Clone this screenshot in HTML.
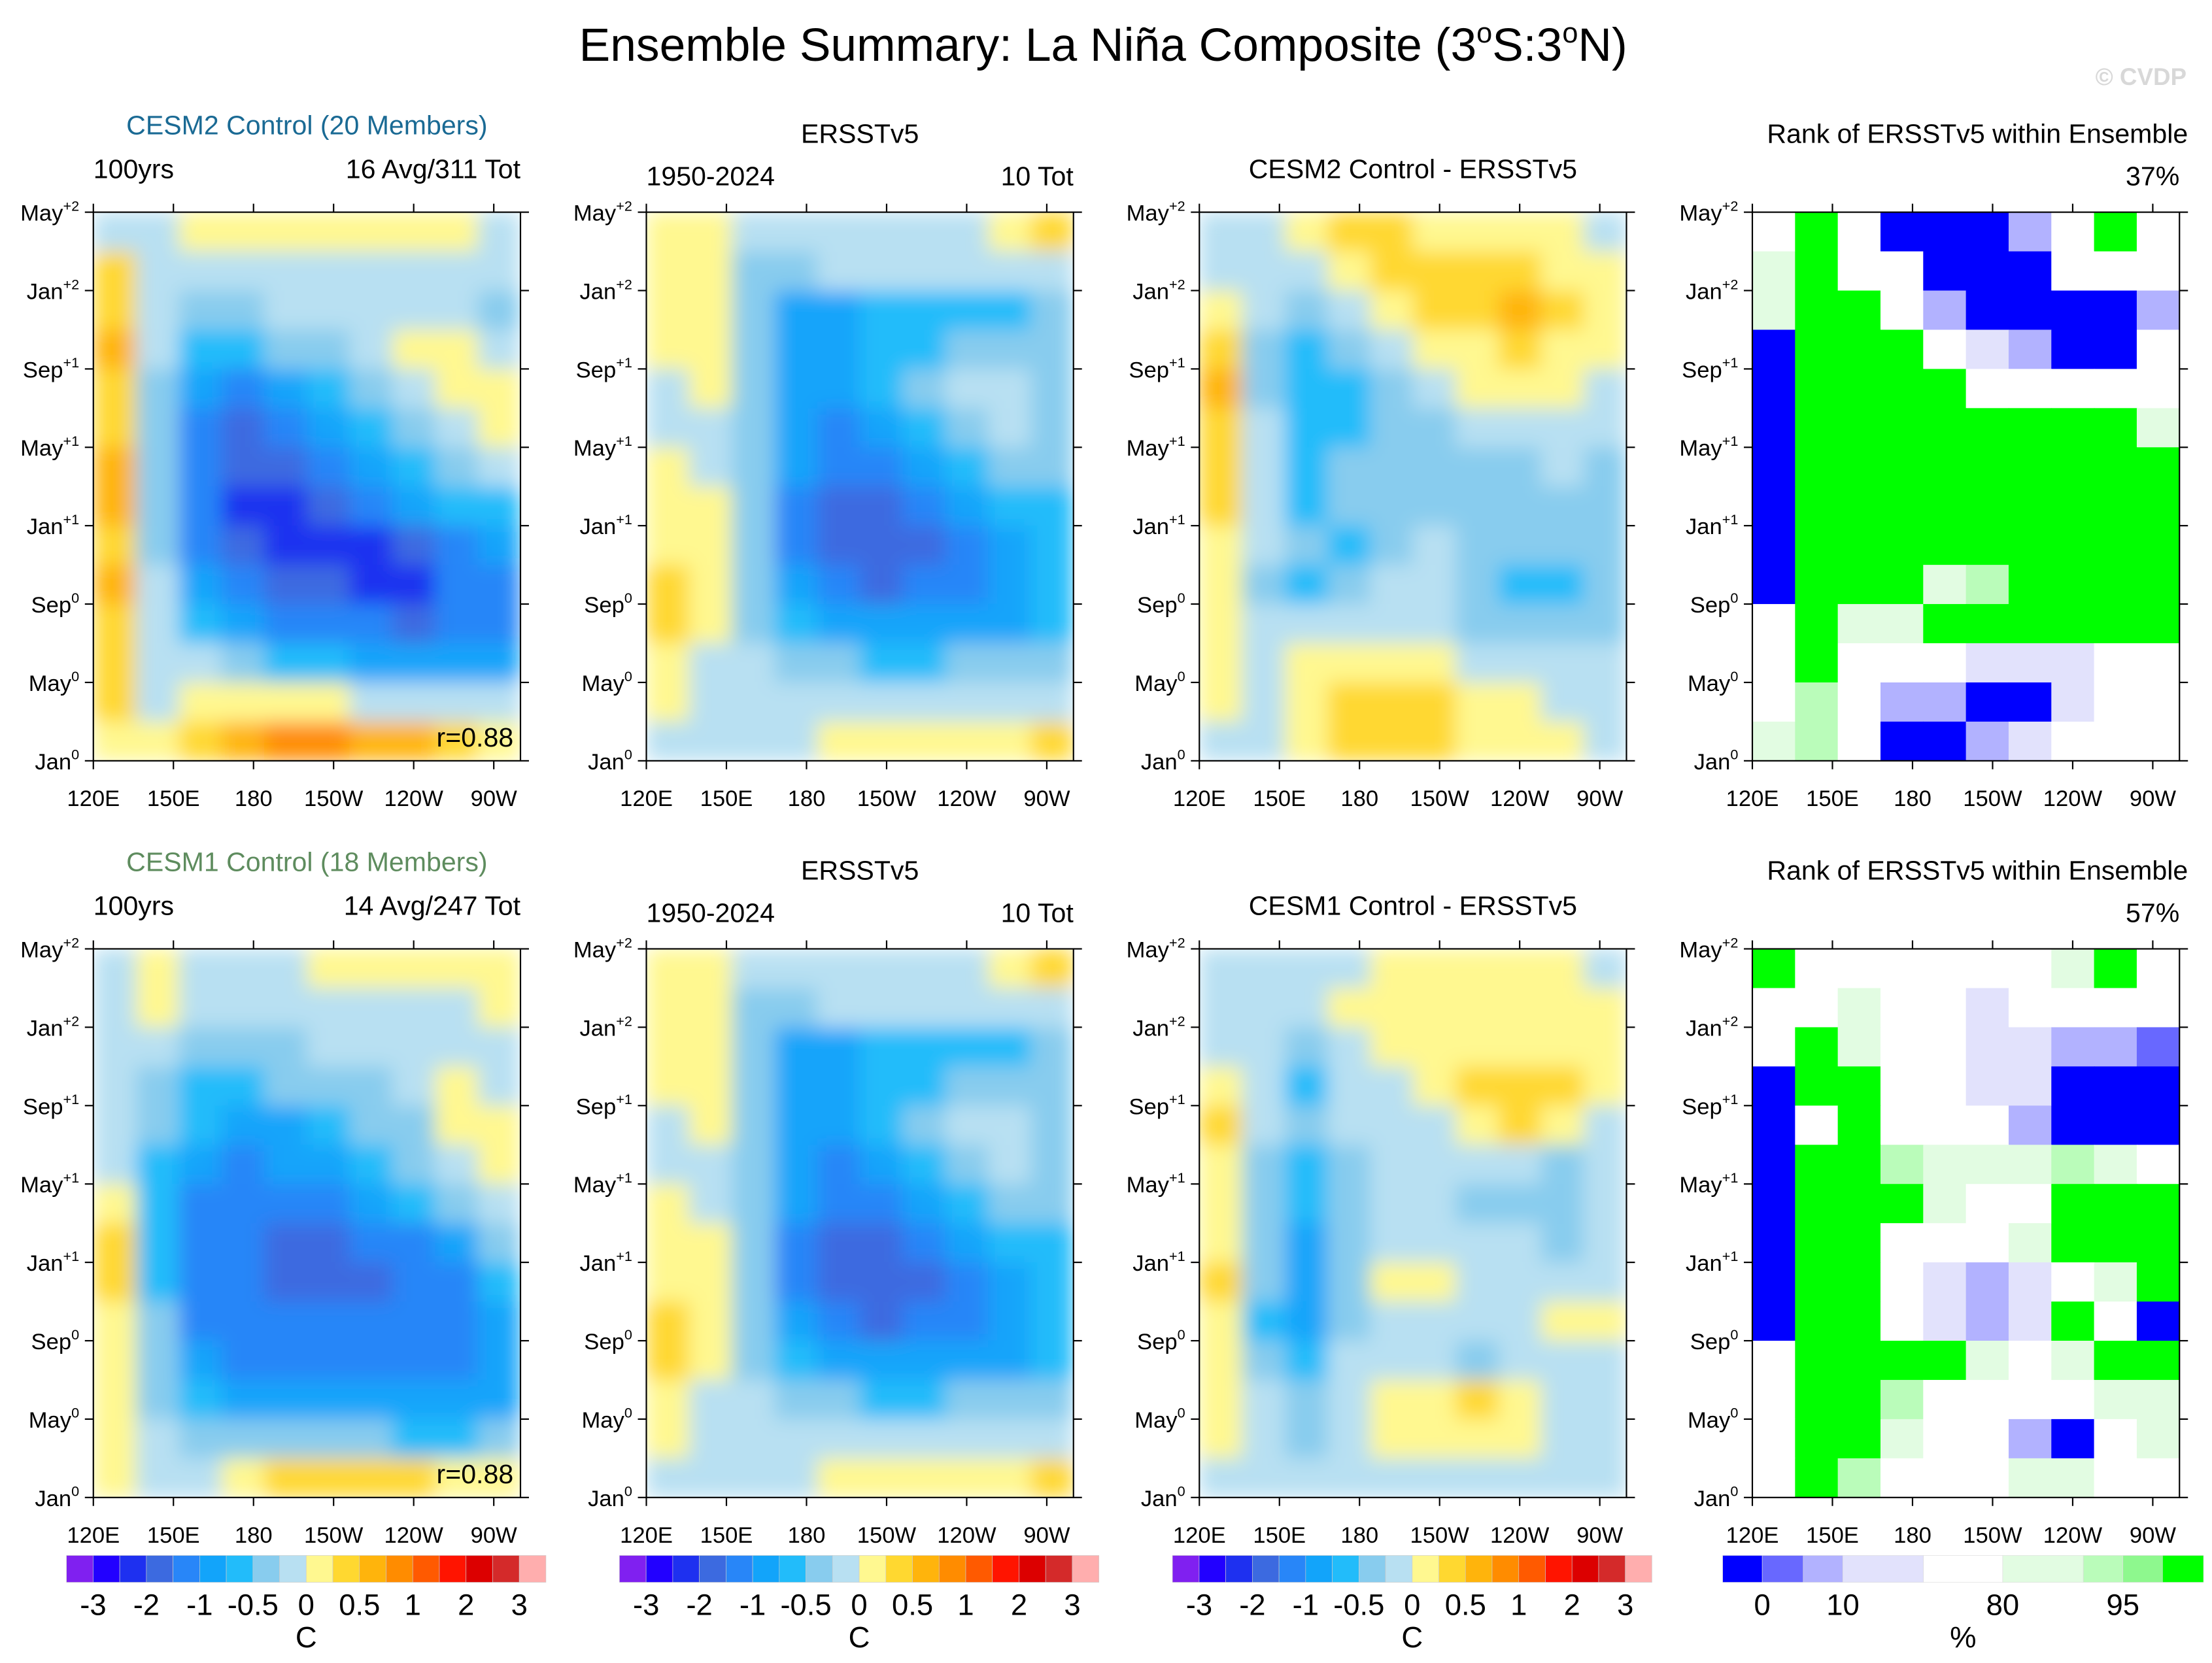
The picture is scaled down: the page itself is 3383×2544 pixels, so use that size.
<!DOCTYPE html>
<html><head><meta charset="utf-8"><style>
html,body{margin:0;padding:0;background:#fff;}
svg{display:block;font-family:"Liberation Sans",sans-serif;}
</style></head><body>
<svg id="fig" width="3383" height="2544" viewBox="0 0 1564 1176" xmlns="http://www.w3.org/2000/svg">
<defs>
<filter id="smooth" x="0" y="0" width="1" height="1" filterUnits="objectBoundingBox"><feGaussianBlur stdDeviation="7" edgeMode="duplicate"/></filter>
</defs>
<rect width="1564" height="1176" fill="#fff"/>
<text x="780" y="43" font-size="33" text-anchor="middle">Ensemble Summary: La Niña Composite (3<tspan font-size="20" dy="-13">o</tspan><tspan dy="13">S:3</tspan><tspan font-size="20" dy="-13">o</tspan><tspan dy="13">N)</tspan></text>
<text x="1546" y="60" font-size="17" text-anchor="end" fill="#d8d8d8" font-weight="bold">© CVDP</text>
</svg>
<script>
// ---- data ----
const lonTicks = ["120E","150E","180","150W","120W","90W"];
const lonTickValues = [120,150,180,210,240,270];
const monthTicks = ["Jan","May","Sep","Jan","May","Sep","Jan","May"];
const monthTickSup = ["0","0","0","+1","+1","+1","+2","+2"];
const monthTickValues = [0,4,8,12,16,20,24,28];
const sstLevels = [-3,-2.5,-2,-1.5,-1,-0.75,-0.5,-0.25,0,0.25,0.5,0.75,1,1.5,2,2.5,3];
const sstColors = ["#8020f0","#2200ff","#1e30f0","#3c6ae0","#2886f8","#12a4fa","#22bcfa","#88ccee","#b8e0f2","#fff890","#ffd830","#ffb40c","#ff8c00","#ff5a00","#ff1400","#dc0000","#d42a2a","#ffaeae"];
const sstBarLabels = ["-3","-2","-1","-0.5","0","0.5","1","2","3"];
const rankColors = ["#0000ff","#6868ff","#b2b2ff","#e2e2fc","#ffffff","#e2fce2","#bafcba","#8ef88e","#00ff00"];
const rankBarLabels = ["0","10","80","95"];
// grids: rows from top (May+2) to bottom (Jan0), 10 columns 120E..280E
const cesm2Ctrl = [
[-0.1,-0.1,0.1,0.1,0.1,0.1,0.1,0.1,0.1,-0.1],
[0.3,-0.1,-0.1,-0.1,-0.1,-0.1,-0.1,-0.1,-0.1,-0.1],
[0.4,-0.1,-0.4,-0.4,-0.1,-0.1,-0.1,-0.1,-0.1,-0.4],
[0.5,-0.1,-0.6,-0.6,-0.4,-0.4,-0.1,0.1,0.1,-0.1],
[0.4,-0.4,-0.9,-1.2,-0.9,-0.6,-0.4,-0.1,0.1,0.1],
[0.3,-0.4,-1.2,-1.7,-1.2,-0.9,-0.6,-0.4,-0.1,0.1],
[0.5,-0.4,-1.2,-1.7,-1.7,-1.2,-0.9,-0.6,-0.4,-0.1],
[0.6,-0.4,-1.2,-2.2,-2.2,-1.7,-1.2,-0.9,-0.6,-0.6],
[0.4,-0.4,-1.2,-1.7,-2.2,-2.2,-2.2,-1.7,-1.2,-0.9],
[0.6,-0.1,-0.9,-1.2,-1.7,-1.7,-2.2,-2.2,-1.2,-1.2],
[0.4,-0.1,-0.6,-0.9,-1.2,-1.2,-1.2,-1.7,-1.2,-1.2],
[0.3,-0.1,-0.1,-0.4,-0.6,-0.6,-0.9,-0.9,-0.9,-0.9],
[0.3,-0.1,0.1,0.1,0.1,0.1,-0.1,-0.1,-0.1,-0.1],
[0.1,0.1,0.4,0.6,0.9,0.9,0.6,0.6,0.4,0.1]];
const ersst = [
[0.1,0.1,-0.1,-0.1,-0.1,-0.1,-0.1,-0.1,0.1,0.4],
[0.1,0.1,-0.4,-0.4,-0.1,-0.1,-0.1,-0.1,-0.1,-0.1],
[0.1,0.1,-0.4,-0.9,-0.9,-0.6,-0.6,-0.6,-0.6,-0.4],
[0.1,0.1,-0.4,-0.9,-0.9,-0.6,-0.6,-0.4,-0.4,-0.4],
[-0.1,0.1,-0.4,-0.9,-0.9,-0.6,-0.4,-0.1,-0.1,-0.4],
[-0.1,-0.1,-0.4,-0.9,-1.2,-0.9,-0.6,-0.4,-0.1,-0.4],
[0.1,-0.1,-0.4,-0.9,-1.2,-1.2,-0.9,-0.6,-0.4,-0.4],
[0.1,0.1,-0.4,-1.2,-1.7,-1.7,-1.2,-0.9,-0.6,-0.6],
[0.1,0.1,-0.4,-1.2,-1.7,-1.7,-1.7,-1.2,-0.9,-0.6],
[0.4,0.1,-0.4,-0.9,-1.2,-1.7,-1.2,-1.2,-0.9,-0.6],
[0.4,0.1,-0.4,-0.6,-0.9,-0.9,-0.9,-0.9,-0.9,-0.6],
[0.1,-0.1,-0.1,-0.4,-0.4,-0.6,-0.6,-0.4,-0.4,-0.4],
[0.1,-0.1,-0.1,-0.1,-0.1,-0.1,-0.1,-0.1,-0.1,-0.1],
[-0.1,-0.1,-0.1,-0.1,0.1,0.1,0.1,0.1,0.1,0.4]];
const cesm2Diff = [
[-0.1,-0.1,0.1,0.4,0.4,0.1,0.1,0.1,0.1,-0.1],
[-0.1,-0.1,-0.1,0.1,0.4,0.4,0.4,0.4,0.1,0.1],
[0.1,-0.1,-0.4,-0.1,0.1,0.4,0.4,0.6,0.4,0.1],
[0.4,-0.4,-0.6,-0.4,-0.1,0.1,0.1,0.4,0.1,0.1],
[0.6,-0.4,-0.6,-0.6,-0.4,-0.1,0.1,0.1,0.1,-0.1],
[0.4,-0.1,-0.6,-0.6,-0.4,-0.4,-0.1,-0.1,-0.1,-0.1],
[0.4,-0.1,-0.6,-0.4,-0.4,-0.4,-0.4,-0.4,-0.1,-0.4],
[0.4,-0.1,-0.6,-0.4,-0.4,-0.4,-0.4,-0.4,-0.4,-0.4],
[0.1,-0.1,-0.4,-0.6,-0.4,-0.1,-0.4,-0.4,-0.4,-0.4],
[0.1,-0.4,-0.6,-0.4,-0.1,-0.1,-0.4,-0.6,-0.6,-0.4],
[0.1,-0.1,-0.1,-0.1,-0.1,-0.1,-0.4,-0.4,-0.4,-0.4],
[0.1,-0.1,0.1,0.1,0.1,0.1,-0.1,-0.1,-0.1,-0.1],
[0.1,-0.1,0.1,0.4,0.4,0.4,0.1,0.1,-0.1,-0.1],
[-0.1,-0.1,0.1,0.4,0.4,0.4,0.1,0.1,0.1,-0.1]];
const cesm2Rank = [
[4,8,4,0,0,0,2,4,8,4],
[5,8,4,4,0,0,0,4,4,4],
[5,8,8,4,2,0,0,0,0,2],
[0,8,8,8,4,3,2,0,0,4],
[0,8,8,8,8,4,4,4,4,4],
[0,8,8,8,8,8,8,8,8,5],
[0,8,8,8,8,8,8,8,8,8],
[0,8,8,8,8,8,8,8,8,8],
[0,8,8,8,8,8,8,8,8,8],
[0,8,8,8,5,6,8,8,8,8],
[4,8,5,5,8,8,8,8,8,8],
[4,8,4,4,4,3,3,3,4,4],
[4,6,4,2,2,0,0,3,4,4],
[5,6,4,0,0,2,3,4,4,4]];
const cesm1Ctrl = [
[-0.1,0.1,-0.1,-0.1,-0.1,0.1,0.1,0.1,0.1,0.1],
[-0.1,0.1,-0.1,-0.1,-0.1,-0.1,-0.1,-0.1,-0.1,0.1],
[-0.1,-0.1,-0.4,-0.4,-0.4,-0.1,-0.1,-0.1,-0.1,-0.1],
[-0.1,-0.4,-0.6,-0.6,-0.4,-0.4,-0.4,-0.1,0.1,-0.1],
[-0.1,-0.4,-0.6,-0.9,-0.9,-0.6,-0.4,-0.4,0.1,0.1],
[-0.1,-0.6,-0.9,-1.2,-0.9,-0.9,-0.6,-0.4,-0.1,0.1],
[0.1,-0.6,-1.2,-1.2,-1.2,-1.2,-0.9,-0.6,-0.4,-0.1],
[0.4,-0.6,-1.2,-1.2,-1.7,-1.7,-1.2,-1.2,-0.9,-0.4],
[0.3,-0.6,-1.2,-1.2,-1.7,-1.7,-1.7,-1.2,-1.2,-0.6],
[0.1,-0.4,-1.2,-1.2,-1.2,-1.2,-1.2,-1.2,-1.2,-0.9],
[0.1,-0.4,-0.9,-1.2,-1.2,-1.2,-1.2,-1.2,-1.2,-0.9],
[0.1,-0.4,-0.6,-0.9,-0.9,-0.9,-0.9,-0.9,-0.9,-0.9],
[0.1,-0.1,-0.4,-0.4,-0.4,-0.4,-0.4,-0.6,-0.6,-0.4],
[0.1,-0.1,-0.1,0.1,0.4,0.4,0.4,0.4,0.1,0.1]];
const cesm1Diff = [
[-0.1,-0.1,-0.1,-0.1,0.1,0.1,0.1,0.1,0.1,-0.1],
[-0.1,-0.1,-0.1,0.1,0.1,0.1,0.1,0.1,0.1,0.1],
[-0.1,-0.1,-0.4,-0.1,0.1,0.1,0.1,0.1,0.1,0.1],
[0.1,-0.1,-0.6,-0.1,-0.1,0.1,0.4,0.4,0.4,0.1],
[0.4,-0.1,-0.4,-0.1,-0.1,-0.1,0.1,0.4,0.1,-0.1],
[0.1,-0.4,-0.6,-0.4,-0.1,-0.1,-0.1,-0.1,-0.4,-0.1],
[0.1,-0.4,-0.6,-0.4,-0.1,-0.1,-0.4,-0.4,-0.4,-0.1],
[0.1,-0.4,-0.9,-0.4,-0.1,-0.1,-0.1,-0.1,-0.4,-0.1],
[0.4,-0.4,-0.9,-0.4,0.1,0.1,-0.1,-0.1,-0.1,-0.1],
[0.1,-0.6,-0.9,-0.4,-0.1,-0.1,-0.1,-0.1,0.1,0.1],
[0.1,-0.4,-0.6,-0.1,-0.1,-0.1,-0.4,-0.1,-0.1,-0.1],
[0.1,-0.1,-0.4,-0.1,0.1,0.1,0.4,0.1,-0.1,-0.1],
[0.1,-0.1,-0.4,-0.1,0.1,0.1,0.1,0.1,-0.1,-0.1],
[-0.1,-0.1,-0.1,-0.1,-0.1,-0.1,-0.1,-0.1,-0.1,-0.1]];
const cesm1Rank = [
[8,4,4,4,4,4,4,5,8,4],
[4,4,5,4,4,3,4,4,4,4],
[4,8,5,4,4,3,3,2,2,1],
[0,8,8,4,4,3,3,0,0,0],
[0,4,8,4,4,4,2,0,0,0],
[0,8,8,6,5,5,5,6,5,4],
[0,8,8,8,5,4,4,8,8,8],
[0,8,8,4,4,4,5,8,8,8],
[0,8,8,4,3,2,3,4,5,8],
[0,8,8,4,3,2,3,8,4,0],
[4,8,8,8,8,5,4,5,8,8],
[4,8,8,6,4,4,4,4,5,5],
[4,8,8,5,4,4,2,0,4,5],
[4,8,6,4,4,4,5,5,4,4]];

// ---- layout ----
const NS="http://www.w3.org/2000/svg";
const svg=document.getElementById('fig');
function el(tag,attrs,parent){const e=document.createElementNS(NS,tag);for(const k in attrs)e.setAttribute(k,attrs[k]);(parent||svg).appendChild(e);return e;}
const colX=[66,457,848,1239], rowY=[150,671], PW=302, PH=388;
const lonMin=120, lonMax=280, monMax=28;
function xScale(x0,lon){return x0+(lon-lonMin)/(lonMax-lonMin)*PW;}
function yScale(y0,m){return y0+PH-m/monMax*PH;}
function sstColor(v){let i=0;while(i<sstLevels.length&&v>=sstLevels[i])i++;return sstColors[i];}

function drawPanel(ci,ri,grid,isRank,name){
  const x0=colX[ci],y0=rowY[ri];
  const g=el('g',{});
  
  
  const cg=el('g',isRank?{}:{filter:'url(#smooth)'},g);
  const nr=grid.length,nc=grid[0].length;
  const dLon=(lonMax-lonMin)/nc, dM=monMax/nr;
  grid.forEach((row,r)=>row.forEach((v,c)=>{
    const xa=xScale(x0,lonMin+c*dLon), xb=xScale(x0,lonMin+(c+1)*dLon);
    const ya=yScale(y0,monMax-r*dM), yb=yScale(y0,monMax-(r+1)*dM);
    const rc=el('rect',{x:xa,y:ya,width:Math.min(xb-xa+0.4,x0+PW-xa),height:Math.min(yb-ya+0.4,y0+PH-ya),fill:isRank?rankColors[v]:sstColor(v)},cg);
    
    
  }));
  el('rect',{x:x0,y:y0,width:PW,height:PH,fill:'none',stroke:'#000','stroke-width':1},g);
  lonTickValues.forEach((lv,i)=>{
    const x=xScale(x0,lv);
    el('line',{x1:x,x2:x,y1:y0+PH,y2:y0+PH+6,stroke:'#000'},g);
    el('line',{x1:x,x2:x,y1:y0,y2:y0-6,stroke:'#000'},g);
    const t=el('text',{x:x,y:y0+PH+32,'font-size':16,'text-anchor':'middle'},g);
    t.textContent=lonTicks[i];
    
    
  });
  monthTickValues.forEach((mv,i)=>{
    const y=yScale(y0,mv);
    el('line',{x1:x0,x2:x0-6,y1:y,y2:y,stroke:'#000'},g);
    el('line',{x1:x0+PW,x2:x0+PW+6,y1:y,y2:y,stroke:'#000'},g);
    const t=el('text',{x:x0-10,y:y+6,'font-size':16,'text-anchor':'end'},g);
    t.innerHTML=monthTicks[i]+'<tspan font-size="10" dy="-7">'+monthTickSup[i]+'</tspan>';
    
    
  });
}
function txt(x,y,s,size,anchor,name,fill){const t=el('text',{x:x,y:y,'font-size':size,'text-anchor':anchor,fill:fill||'#000'});t.textContent=s;return t;}

drawPanel(0,0,cesm2Ctrl,false,'cesm2-control-panel');
drawPanel(1,0,ersst,false,'ersst-panel-top');
drawPanel(2,0,cesm2Diff,false,'cesm2-diff-panel');
drawPanel(3,0,cesm2Rank,true,'cesm2-rank-panel');
drawPanel(0,1,cesm1Ctrl,false,'cesm1-control-panel');
drawPanel(1,1,ersst,false,'ersst-panel-bottom');
drawPanel(2,1,cesm1Diff,false,'cesm1-diff-panel');
drawPanel(3,1,cesm1Rank,true,'cesm1-rank-panel');

[0,1].forEach(ri=>{
  const o=ri*521;
  txt(217,95+o,ri?'CESM1 Control (18 Members)':'CESM2 Control (20 Members)',19,'middle',ri?'cesm1-title':'cesm2-title',ri?'#5e8c5e':'#1a6a94');
  txt(66,126+o,'100yrs',19,'start','years-label');
  txt(368,126+o,ri?'14 Avg/247 Tot':'16 Avg/311 Tot',19,'end','event-count');
  txt(608,101+o,'ERSSTv5',19,'middle','ersst-title');
  txt(457,131+o,'1950-2024',19,'start','ersst-years');
  txt(759,131+o,'10 Tot',19,'end','ersst-count');
  txt(999,126+o,ri?'CESM1 Control - ERSSTv5':'CESM2 Control - ERSSTv5',19,'middle','diff-title');
  txt(1547,101+o,'Rank of ERSSTv5 within Ensemble',19,'end','rank-title');
  txt(1541,131+o,ri?'57%':'37%',19,'end','rank-percent');
  txt(363,528+o,'r=0.88',19,'end','pattern-correlation');
});

// colorbars
[0,1,2].forEach(ci=>{
  const x0=47+ci*391, w=339/18;
  const g=el('g',{});
  
  
  sstColors.forEach((c,i)=>el('rect',{x:x0+i*w,y:1100,width:w,height:19,fill:c,stroke:'#ccc','stroke-width':0.3},g));
  sstBarLabels.forEach((s,i)=>txt(x0+(1+2*i)*w,1142,s,21,'middle','colorbar-label'));
  txt(x0+169.5,1165,'C',21,'middle','colorbar-units');
});
{
  const g=el('g',{});
  
  
  const edges=[1218,1246,1275,1303,1360,1416,1473,1501,1529,1558];
  rankColors.forEach((c,i)=>el('rect',{x:edges[i],y:1100,width:edges[i+1]-edges[i],height:19,fill:c,stroke:'#ddd','stroke-width':0.3},g));
  const lx=[1246,1303,1416,1501];
  rankBarLabels.forEach((s,i)=>txt(lx[i],1142,s,21,'middle','colorbar-label'));
  txt(1388,1165,'%',21,'middle','colorbar-units');
}
</script>
</body></html>
